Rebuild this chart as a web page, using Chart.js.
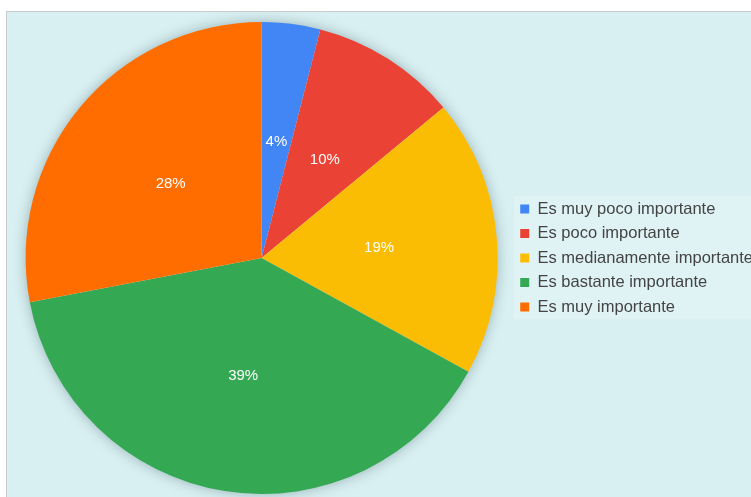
<!DOCTYPE html>
<html>
<head>
<meta charset="utf-8">
<script src="https://cdn.jsdelivr.net/npm/chart.js@4.4.1/dist/chart.umd.min.js"></script>
<style>
  html, body { margin: 0; padding: 0; background: #fff; overflow: hidden; width: 751px; height: 497px; }
  #panel {
    position: absolute; left: 6px; top: 11px; width: 770px; height: 500px;
    background: #d9f0f2; border-left: 1px solid #c8cbcc; border-top: 1px solid #c8cbcc;
  }
  #pie { position: absolute; left: 0; top: 0; }
</style>
</head>
<body>
<div id="panel">
  <canvas id="pie" width="756" height="486"></canvas>
</div>
<script>
const categories = [
  "Es muy poco importante",
  "Es poco importante",
  "Es medianamente importante",
  "Es bastante importante",
  "Es muy importante"
];
const shares = [4, 10, 19, 39, 28];
const sliceColors = ["#4285f4", "#ea4335", "#fbbc04", "#34a853", "#ff6d01"];

const FONT = 'Arial, "Liberation Sans", sans-serif';

// soft shadow behind the whole pie
const pieShadow = {
  id: "pieShadow",
  beforeDatasetsDraw(chart) {
    const arc = chart.getDatasetMeta(0).data[0];
    if (!arc) return;
    const ctx = chart.ctx;
    ctx.save();
    ctx.shadowColor = "rgba(0, 40, 50, 0.35)";
    ctx.shadowBlur = 14;
    ctx.fillStyle = "#d9f0f2";
    ctx.beginPath();
    ctx.arc(arc.x, arc.y, arc.outerRadius - 1, 0, Math.PI * 2);
    ctx.fill();
    ctx.restore();
  }
};

// pale box behind the legend items
const legendBackdrop = {
  id: "legendBackdrop",
  beforeDraw(chart) {
    const boxes = chart.legend && chart.legend.legendHitBoxes;
    if (!boxes || !boxes.length) return;
    const top = Math.min(...boxes.map(b => b.top)) - 5;
    const bottom = Math.max(...boxes.map(b => b.top + b.height)) + 4;
    const left = Math.min(...boxes.map(b => b.left)) - 6;
    const ctx = chart.ctx;
    ctx.save();
    ctx.fillStyle = "rgba(255, 255, 255, 0.2)";
    ctx.fillRect(left, top, chart.width - left, bottom - top);
    ctx.restore();
  }
};

// percentage inside each slice
const sliceLabels = {
  id: "sliceLabels",
  afterDatasetsDraw(chart) {
    const ctx = chart.ctx;
    const meta = chart.getDatasetMeta(0);
    ctx.save();
    ctx.font = "15px " + FONT;
    ctx.fillStyle = "#ffffff";
    ctx.textAlign = "center";
    ctx.textBaseline = "middle";
    meta.data.forEach((arc, i) => {
      const p = arc.getCenterPoint();
      ctx.fillText(shares[i] + "%", p.x, p.y + 1);
    });
    ctx.restore();
  }
};

new Chart(document.getElementById("pie").getContext("2d"), {
  type: "pie",
  data: {
    labels: categories,
    datasets: [{
      data: shares,
      backgroundColor: sliceColors,
      borderWidth: 0
    }]
  },
  options: {
    responsive: false,
    animation: false,
    events: [],
    layout: { padding: { left: 4, top: 10, bottom: 4, right: 0 } },
    plugins: {
      tooltip: { enabled: false },
      legend: {
        position: "right",
        align: "center",
        labels: {
          boxWidth: 9,
          boxHeight: 9,
          padding: 8,
          color: "#444444",
          font: { size: 16.5, family: FONT }
        }
      }
    }
  },
  plugins: [pieShadow, legendBackdrop, sliceLabels]
});
</script>
</body>
</html>
